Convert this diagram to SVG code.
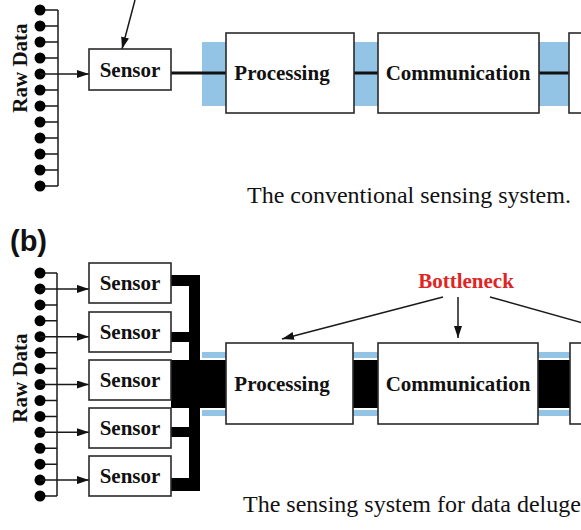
<svg xmlns="http://www.w3.org/2000/svg" width="581" height="530" viewBox="0 0 581 530">
<defs>
<style>
.box{fill:#fff;stroke:#2a2a2a;stroke-width:1.6}
.lbl{font-family:"Liberation Serif","Times New Roman",serif;font-weight:bold;font-size:21px;fill:#111;text-anchor:middle}
.cap{font-family:"Liberation Serif","Times New Roman",serif;font-size:24px;fill:#111}
.thin{stroke:#1a1a1a;stroke-width:1.5;fill:none}
.blue{fill:#93c4e6}
.dot{fill:#000}
</style>
<marker id="ah" viewBox="0 0 12 8" refX="12" refY="4" markerWidth="12" markerHeight="8" markerUnits="userSpaceOnUse" orient="auto">
<path d="M0,0 L12,4 L0,8 Z" fill="#111"/>
</marker>
</defs>
<rect width="581" height="530" fill="#fff"/>

<!-- Panel (a) -->
<g id="a-rawdata">
<text class="lbl" transform="translate(27,68) rotate(-90)">Raw Data</text>
<g class="thin">
<path d="M58,10 V186"/>
<path d="M40,10H58M40,26H58M40,42H58M40,58H58M40,90H58M40,106H58M40,122H58M40,138H58M40,154H58M40,170H58M40,186H58"/>
</g>
<g class="dot">
<circle cx="40" cy="10" r="5.5"/><circle cx="40" cy="26" r="5.5"/><circle cx="40" cy="42" r="5.5"/><circle cx="40" cy="58" r="5.5"/><circle cx="40" cy="74" r="5.5"/><circle cx="40" cy="90" r="5.5"/><circle cx="40" cy="106" r="5.5"/><circle cx="40" cy="122" r="5.5"/><circle cx="40" cy="138" r="5.5"/><circle cx="40" cy="154" r="5.5"/><circle cx="40" cy="170" r="5.5"/><circle cx="40" cy="186" r="5.5"/>
</g>
</g>
<g id="a-blue">
<rect class="blue" x="202" y="42" width="24" height="64"/>
<rect class="blue" x="354" y="42" width="24" height="64"/>
<rect class="blue" x="539" y="42" width="30" height="64"/>
</g>
<g id="a-connectors">
<path class="thin" d="M40,74 H89" marker-end="url(#ah)"/>
<path class="thin" d="M135,0 L122,49" marker-end="url(#ah)"/>
<path d="M171,73 H226 M354,73 H378 M539,73 H569" stroke="#111" stroke-width="3" fill="none"/>
</g>
<g id="a-sensor"><rect class="box" x="89" y="49" width="82" height="41"/><text class="lbl" x="130" y="77">Sensor</text></g>
<g id="a-processing"><rect class="box" x="226" y="33" width="128" height="80"/><text class="lbl" x="282" y="80">Processing</text></g>
<g id="a-communication"><rect class="box" x="378" y="33" width="161" height="80"/><text class="lbl" x="458" y="80">Communication</text></g>
<g id="a-next"><rect class="box" x="569" y="33" width="30" height="80"/></g>
<text class="cap" x="247" y="203">The conventional sensing system.</text>

<!-- Panel (b) -->
<text x="10" y="251" font-family="Liberation Sans, Arial, sans-serif" font-weight="bold" font-size="29" fill="#111">(b)</text>
<g id="b-rawdata">
<text class="lbl" transform="translate(27,378) rotate(-90)">Raw Data</text>
<g class="thin">
<path d="M57,273 V496"/>
<path d="M40,273H57M40,304.9H57M40,320.8H57M40,352.7H57M40,368.6H57M40,400.5H57M40,416.4H57M40,448.3H57M40,464.2H57M40,496H57"/>
</g>
<g class="dot">
<circle cx="40" cy="273" r="5.5"/><circle cx="40" cy="288.9" r="5.5"/><circle cx="40" cy="304.9" r="5.5"/><circle cx="40" cy="320.8" r="5.5"/><circle cx="40" cy="336.7" r="5.5"/><circle cx="40" cy="352.7" r="5.5"/><circle cx="40" cy="368.6" r="5.5"/><circle cx="40" cy="384.5" r="5.5"/><circle cx="40" cy="400.5" r="5.5"/><circle cx="40" cy="416.4" r="5.5"/><circle cx="40" cy="432.3" r="5.5"/><circle cx="40" cy="448.3" r="5.5"/><circle cx="40" cy="464.2" r="5.5"/><circle cx="40" cy="480.1" r="5.5"/><circle cx="40" cy="496" r="5.5"/>
</g>
</g>
<g id="b-blue">
<rect class="blue" x="202" y="352" width="24" height="6"/><rect class="blue" x="202" y="410" width="24" height="6"/>
<rect class="blue" x="353" y="352" width="25" height="6"/><rect class="blue" x="353" y="410" width="25" height="6"/>
<rect class="blue" x="538" y="352" width="32" height="6"/><rect class="blue" x="538" y="410" width="32" height="6"/>
</g>
<g id="b-connectors">
<g class="thin">
<path d="M40,288.9 H89" marker-end="url(#ah)"/>
<path d="M40,336.7 H89" marker-end="url(#ah)"/>
<path d="M40,384.5 H89" marker-end="url(#ah)"/>
<path d="M40,432.3 H89" marker-end="url(#ah)"/>
<path d="M40,480.1 H89" marker-end="url(#ah)"/>
<path d="M443,297 L282,339" marker-end="url(#ah)"/>
<path d="M458,297 V338" marker-end="url(#ah)"/>
<path d="M490,297 L583,323"/>
</g>
<g fill="#000">
<rect x="171" y="275" width="29" height="11"/>
<rect x="189" y="275" width="11" height="216"/>
<rect x="171" y="332" width="29" height="10"/>
<rect x="171" y="427" width="29" height="10"/>
<rect x="171" y="478" width="29" height="13"/>
<rect x="171" y="360" width="55" height="48"/>
<rect x="353" y="360" width="25" height="48"/>
<rect x="538" y="360" width="32" height="48"/>
</g>
</g>
<g id="b-sensor1"><rect class="box" x="89" y="263" width="82" height="40"/><text class="lbl" x="130" y="290">Sensor</text></g>
<g id="b-sensor2"><rect class="box" x="89" y="312" width="82" height="40"/><text class="lbl" x="130" y="339">Sensor</text></g>
<g id="b-sensor3"><rect class="box" x="89" y="360" width="82" height="40"/><text class="lbl" x="130" y="387">Sensor</text></g>
<g id="b-sensor4"><rect class="box" x="89" y="408" width="82" height="40"/><text class="lbl" x="130" y="435">Sensor</text></g>
<g id="b-sensor5"><rect class="box" x="89" y="456" width="82" height="40"/><text class="lbl" x="130" y="483">Sensor</text></g>
<g id="b-processing"><rect class="box" x="226" y="343" width="127" height="81"/><text class="lbl" x="282" y="391">Processing</text></g>
<g id="b-communication"><rect class="box" x="378" y="343" width="160" height="81"/><text class="lbl" x="458" y="391">Communication</text></g>
<g id="b-next"><rect class="box" x="570" y="343" width="30" height="81"/></g>
<g id="b-bottleneck"><text class="lbl" x="466" y="288" fill="#e02424" style="fill:#e02424">Bottleneck</text></g>
<text class="cap" x="243" y="512">The sensing system for data deluge</text>
</svg>
